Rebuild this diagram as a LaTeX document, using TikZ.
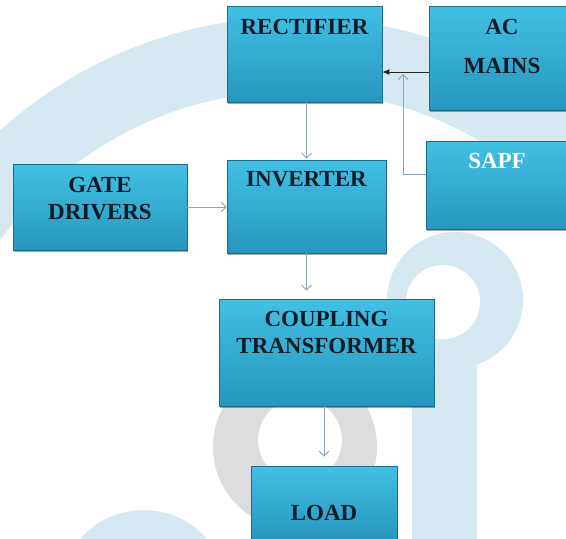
\documentclass[tikz,border=0pt]{standalone}
\usepackage{fontspec}
\setmainfont{Liberation Serif}
\usetikzlibrary{
    arrows.meta,
    calc,
    positioning,
    shadows
}

\definecolor{markblue}{RGB}{214,232,241}
\definecolor{markgray}{RGB}{221,221,223}
\definecolor{boxtop}{RGB}{66,192,228}
\definecolor{boxbottom}{RGB}{38,150,190}
\definecolor{boxedge}{RGB}{28,108,138}
\definecolor{textnavy}{RGB}{14,26,38}
\definecolor{linkblue}{RGB}{140,160,196}

\begin{document}
\begin{tikzpicture}[
    x=1pt,
    y=-1pt,
    stagebox/.style = {
        draw=boxedge,
        line width=0.6pt,
        top color=boxtop,
        bottom color=boxbottom,
        inner sep=0pt,
        drop shadow={shadow xshift=1.2pt, shadow yshift=-1.6pt, fill=black, opacity=0.35}
    },
    caption/.style = {
        font=\fontsize{23pt}{27pt}\selectfont\bfseries,
        text=textnavy,
        inner sep=0pt,
        align=center
    },
    link/.style = {
        draw=linkblue,
        line width=0.9pt,
        -{Straight Barb[length=5pt,width=10pt]}
    },
]
    \clip (0,0) rectangle (566,539);

    % watermark behind the blocks
    \fill [markblue, even odd rule]
        (295,457) circle [radius=440] (295,457) circle [radius=366];
    \fill [markblue] (455,300) circle [radius=68];
    \fill [markblue] (412,300) rectangle (477,545);
    \fill [white] (443,302) circle [radius=37];
    \fill [markgray, even odd rule]
        (295,447) circle [radius=82] (300,440) circle [radius=42];
    \fill [markblue] (143.5,594) circle [radius=84];

    \node [stagebox, minimum width=155pt, minimum height=96pt] (rectifier) at (304.5,54) {};
    \node [stagebox, minimum width=151pt, minimum height=104pt] (ac_mains) at (504.5,58) {};
    \node [stagebox, minimum width=154pt, minimum height=88pt] (sapf) at (503,185) {};
    \node [stagebox, minimum width=174pt, minimum height=86pt] (gate_drivers) at (100,207) {};
    \node [stagebox, minimum width=159pt, minimum height=93pt] (inverter) at (306.5,206.5) {};
    \node [stagebox, minimum width=215pt, minimum height=107pt] (coupling) at (326.5,352.5) {};
    \node [stagebox, minimum width=146pt, minimum height=74pt] (load) at (324,503) {};

    \node [caption, below=13pt of rectifier.north] (rectifier_text) {RECTIFIER};
    \node [caption, below=13pt of ac_mains.north, xshift=-2.5pt] (ac_mains_text) {AC\\[12pt]MAINS};
    \node [caption, text=white, below=12pt of sapf.north, xshift=-6pt] (sapf_text) {SAPF};
    \node [caption, below=13pt of gate_drivers.north] (gate_drivers_text) {GATE\\DRIVERS};
    \node [caption, below=12pt of inverter.north] (inverter_text) {INVERTER};
    \node [caption, below=12pt of coupling.north] (coupling_text) {COUPLING\\TRANSFORMER};
    \node [caption, below=39pt of load.north] (load_text) {LOAD};

    \coordinate (mains_out) at ([yshift=-14pt]ac_mains.west);
    \coordinate (sapf_out) at ([yshift=11pt]sapf.west);
    \coordinate (sapf_join) at ($(rectifier.east)!0.45!(ac_mains.west)$);
    \coordinate (rectifier_out) at ([xshift=2pt]rectifier.south);
    \coordinate (coupling_out) at ([xshift=-2.5pt]coupling.south);

    \draw [-{Latex[length=7pt,width=6pt]}, line width=0.9pt, black!85]
        (mains_out) -- (mains_out -| rectifier.east);
    \draw [link, shorten >=2pt] (sapf_out) -| (sapf_join |- mains_out);
    \draw [link, shorten >=1pt] (rectifier_out) -- (rectifier_out |- inverter.north);
    \draw [link] (gate_drivers.east) -- (gate_drivers.east -| inverter.west);
    \draw [link, shorten >=8pt] (inverter.south) -- (inverter.south |- coupling.north);
    \draw [link, shorten >=9pt] (coupling_out) -- (coupling_out |- load.north);
\end{tikzpicture}
\end{document}
